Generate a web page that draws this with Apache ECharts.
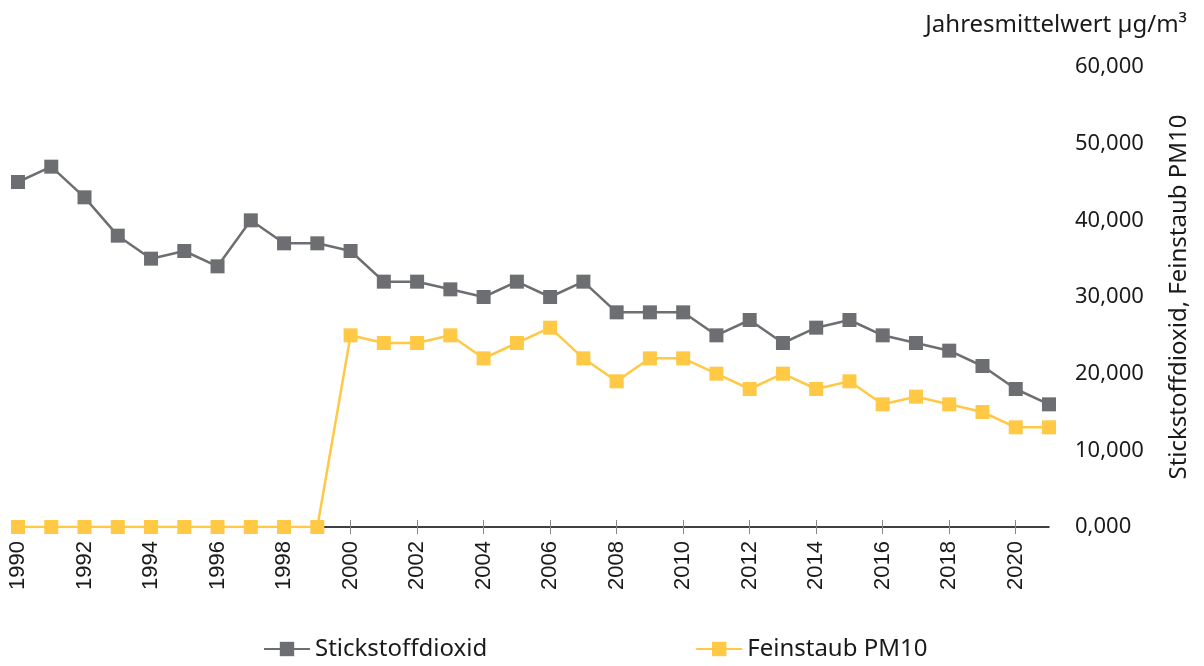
<!DOCTYPE html>
<html>
<head>
<meta charset="utf-8">
<script src="https://cdn.jsdelivr.net/npm/echarts@6/dist/echarts.min.js"></script>
<style>
  html, body { margin: 0; padding: 0; background: #fff; }
  #chart { width: 1204px; height: 666px; }
</style>
</head>
<body>
<div id="chart"></div>
<script>
// Jahre 1990 - 2021
const years = [];
for (let y = 1990; y <= 2021; y++) years.push(String(y));

const no2 = [45, 47, 43, 38, 35, 36, 34, 40, 37, 37, 36, 32, 32, 31, 30, 32, 30, 32,
  28, 28, 28, 25, 27, 24, 26, 27, 25, 24, 23, 21, 18, 16];
const pm10 = [0, 0, 0, 0, 0, 0, 0, 0, 0, 0, 25, 24, 24, 25, 22, 24, 26, 22,
  19, 22, 22, 20, 18, 20, 18, 19, 16, 17, 16, 15, 13, 13];

const GRAY = '#6d6e71';
const YELLOW = '#ffc845';
const FONT = 'Noto Sans';

const chart = echarts.init(document.getElementById('chart'));

function lineSeries(name, data, color) {
  return {
    name: name,
    type: 'line',
    data: data,
    symbol: 'rect',
    symbolSize: 14,
    lineStyle: { color: color, width: 2.5 },
    itemStyle: { color: color },
    z: name === 'Feinstaub PM10' ? 3 : 2,
    animation: false
  };
}

const option = {
  backgroundColor: '#fff',
  animation: false,
  title: {
    text: 'Jahresmittelwert µg/m³',
    right: 12,
    top: 8,
    textStyle: { fontFamily: FONT, fontSize: 24, fontWeight: 'normal', color: '#1a1a1a' }
  },
  legend: {
    bottom: 0,
    left: 258,
    itemGap: 208,
    itemWidth: 46,
    itemHeight: 18,
    textStyle: { fontFamily: FONT, fontSize: 24, color: '#1a1a1a' },
    data: ['Stickstoffdioxid', 'Feinstaub PM10']
  },
  grid: { left: 18, right: 155, top: 67, bottom: 139, containLabel: false },
  xAxis: [{
    type: 'category',
    data: years,
    boundaryGap: false,
    axisLine: { lineStyle: { color: '#000', width: 1.5 } },
    axisTick: { show: true, interval: 1, length: 7, lineStyle: { color: '#888' } },
    axisLabel: {
      interval: 1,
      rotate: 90,
      margin: 14,
      fontFamily: 'Liberation Sans',
      fontSize: 22,
      color: '#1a1a1a'
    }
  }, {
    type: 'category',
    data: years,
    boundaryGap: false,
    position: 'bottom',
    axisLine: { show: false },
    axisTick: { show: true, inside: true, interval: 1, length: 7, lineStyle: { color: '#888' } },
    axisLabel: { show: false }
  }],
  yAxis: {
    type: 'value',
    position: 'right',
    min: 0,
    max: 60,
    interval: 10,
    splitLine: { show: false },
    axisLine: { show: false },
    axisTick: { show: false },
    axisLabel: {
      margin: 26,
      fontFamily: FONT,
      fontSize: 22,
      color: '#1a1a1a',
      formatter: v => v.toFixed(3).replace('.', ',')
    },
    name: 'Stickstoffdioxid, Feinstaub PM10',
    nameLocation: 'middle',
    nameRotate: 90,
    nameGap: 118,
    nameTextStyle: { fontFamily: FONT, fontSize: 24, color: '#1a1a1a' }
  },
  series: [
    lineSeries('Stickstoffdioxid', no2, GRAY),
    lineSeries('Feinstaub PM10', pm10, YELLOW)
  ]
};

chart.setOption(option);
</script>
</body>
</html>
